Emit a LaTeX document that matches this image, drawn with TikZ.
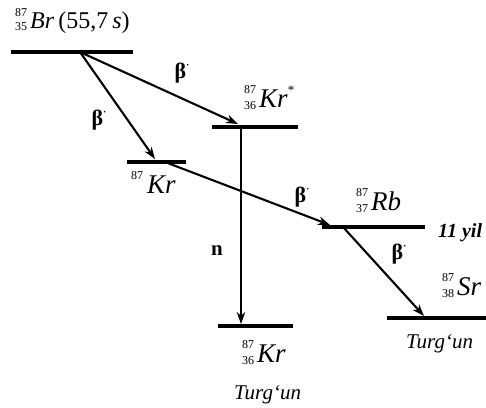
\documentclass[tikz,border=0pt]{standalone}
\usepackage{fontspec}
\setmainfont{Liberation Serif}
\usetikzlibrary{arrows.meta}
\newcommand\nucl[3]{\rlap{\raisebox{0.5em}{\fontsize{12}{12}\selectfont #1}}\raisebox{-0.1em}{\fontsize{12}{12}\selectfont #2}\kern3pt\textit{#3}}
\newcommand\betam{β\raisebox{0.45em}{\fontsize{10}{10}\selectfont\bfseries ·}}
\begin{document}
\begin{tikzpicture}[x=1pt,y=-1pt,
  level/.style={line width=4.6pt},
  trans/.style={line width=2.1pt,-{Stealth[length=12pt,width=8.5pt]}},
  iso/.style={anchor=base west,inner sep=0pt,font=\fontsize{27}{27}\selectfont},
  lab/.style={inner sep=0pt,font=\fontsize{22}{22}\selectfont\bfseries},
  note/.style={anchor=base west,inner sep=0pt,font=\fontsize{21}{21}\selectfont\itshape}]
\useasboundingbox (0,0) rectangle (486,407);
% levels
\coordinate (brL) at (11,52);  \coordinate (brR) at (133,52);
\coordinate (ksL) at (212,127); \coordinate (ksR) at (298,127);
\coordinate (kmL) at (127,162); \coordinate (kmR) at (186,162);
\coordinate (rbL) at (322,227); \coordinate (rbR) at (425,227);
\coordinate (srL) at (387,318); \coordinate (srR) at (486,318);
\coordinate (kgL) at (218,326); \coordinate (kgR) at (293,326);
\draw[level] (brL) -- (brR);
\draw[level] (ksL) -- (ksR);
\draw[level] (kmL) -- (kmR);
\draw[level] (rbL) -- (rbR);
\draw[level] (srL) -- (srR);
\draw[level] (kgL) -- (kgR);
% transition points
\coordinate (br1) at (80,52);
\coordinate (ks1) at (238,124);
\coordinate (km1) at (155,159);
\coordinate (km2) at (165,162);
\coordinate (rb1) at (330,225);
\coordinate (ks2) at (241,127);
\coordinate (kg1) at (241,324);
\coordinate (rb2) at (343,227);
\coordinate (sr1) at (424,316);
\draw[trans] (br1) -- (ks1);
\draw[trans] (br1) -- (km1);
\draw[trans] (km2) -- (rb1);
\draw[trans] (ks2) -- (kg1);
\draw[trans] (rb2) -- (sr1);
% labels
\node[iso,font=\fontsize{24}{24}\selectfont] (tBr) at (15,28) {\nucl{87}{35}{Br}\,(55,7\,\textit{s})};
\node[iso] (tKs) at (244,107) {\nucl{87}{36}{Kr}\raisebox{0.45em}{\fontsize{13}{13}\selectfont *}};
\node[iso] (tKm) at (131,193) {\raisebox{0.5em}{\fontsize{12}{12}\selectfont 87}\kern4pt\textit{Kr}};
\node[iso] (tRb) at (356,210) {\nucl{87}{37}{Rb}};
\node[iso] (tSr) at (442,295) {\nucl{87}{38}{Sr}};
\node[iso] (tKg) at (242,362) {\nucl{87}{36}{Kr}};
\node[note,font=\fontsize{20}{20}\selectfont\bfseries\itshape] (t11) at (438,237) {11 yil};
\node[note] (tT1) at (406,348) {Turg‘un};
\node[note] (tT2) at (234,399) {Turg‘un};
\node[lab] (b1) at (182,73) {\betam};
\node[lab] (b2) at (99,120) {\betam};
\node[lab] (b3) at (302,197) {\betam};
\node[lab] (b4) at (399,254) {\betam};
\node[lab,font=\fontsize{21}{21}\selectfont\bfseries] (n) at (217,251) {n};
\end{tikzpicture}
\end{document}
